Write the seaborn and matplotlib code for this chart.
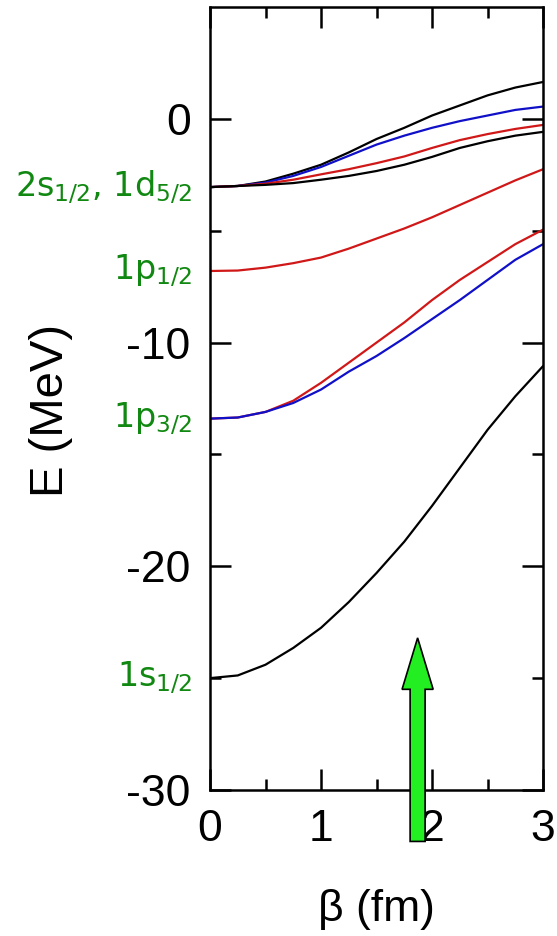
import numpy as np
import pandas as pd
import seaborn as sns
import matplotlib.pyplot as plt

# beta grid (fm)
beta = [0, 0.25, 0.5, 0.75, 1.0, 1.25, 1.5, 1.75, 2.0, 2.25, 2.5, 2.75, 3.0]

# energy levels (MeV)
d_black_up = [-3.05, -3.0, -2.8, -2.45, -2.05, -1.5, -0.9, -0.4, 0.15, 0.6, 1.05, 1.4, 1.65]
d_blue = [-3.05, -3.0, -2.85, -2.55, -2.15, -1.65, -1.15, -0.75, -0.4, -0.1, 0.15, 0.4, 0.55]
d_red = [-3.05, -3.0, -2.9, -2.72, -2.48, -2.25, -1.98, -1.68, -1.3, -0.95, -0.68, -0.45, -0.27]
s_black = [-3.05, -3.0, -2.95, -2.87, -2.72, -2.55, -2.33, -2.05, -1.7, -1.3, -1.0, -0.75, -0.58]
p12_red = [-6.8, -6.78, -6.65, -6.45, -6.2, -5.8, -5.35, -4.9, -4.4, -3.85, -3.3, -2.75, -2.25]
p32_red = [-13.4, -13.35, -13.1, -12.6, -11.8, -10.9, -10.0, -9.1, -8.1, -7.2, -6.4, -5.6, -4.95]
p32_blue = [-13.4, -13.35, -13.1, -12.7, -12.1, -11.3, -10.6, -9.8, -8.95, -8.1, -7.2, -6.3, -5.6]
s12_black = [-25.0, -24.88, -24.4, -23.65, -22.75, -21.6, -20.3, -18.9, -17.3, -15.6, -13.9, -12.4, -11.05]

curves = {
    'd_black_up': (d_black_up, 'black'),
    'd_blue': (d_blue, '#1010c8'),
    'd_red': (d_red, '#d01818'),
    's_black': (s_black, 'black'),
    'p12_red': (p12_red, '#d01818'),
    'p32_red': (p32_red, '#d01818'),
    'p32_blue': (p32_blue, '#1010c8'),
    's12_black': (s12_black, 'black'),
}

# level labels at beta = 0
level_names = ['2s$_{1/2}$, 1d$_{5/2}$', '1p$_{1/2}$', '1p$_{3/2}$', '1s$_{1/2}$']
level_E = [-3.05, -6.8, -13.4, -25.0]

sns.set_style("ticks")
plt.rcParams['font.family'] = ['Liberation Sans', 'DejaVu Sans']
plt.rcParams['mathtext.default'] = 'regular'
plt.rcParams['axes.unicode_minus'] = False

fig = plt.figure(figsize=(5.57, 9.36), dpi=100)
ax = fig.add_axes([0.377, 0.156, 0.598, 0.8365])

for name, (vals, col) in curves.items():
    df = pd.DataFrame({'beta': beta, 'E': vals})
    sns.lineplot(data=df, x='beta', y='E', color=col, linewidth=1.6, ax=ax)

ax.set_xlim(0, 3)
ax.set_ylim(-30, 5)
ax.set_xticks([0, 1, 2, 3])
ax.set_xticks([0.5, 1.5, 2.5], minor=True)
ax.set_yticks([0, -10, -20, -30])
ax.set_yticks([-5, -15, -25], minor=True)
ax.tick_params(which='both', direction='in', top=True, right=True, width=1.8,
               labelsize=32, pad=14, colors='black')
ax.tick_params(which='major', length=15)
ax.tick_params(which='minor', length=8)
for sp in ax.spines.values():
    sp.set_linewidth(1.8)
    sp.set_color('black')

ax.set_xlabel('β (fm)', fontsize=32, labelpad=28, color='black')
ax.set_ylabel('E (MeV)', fontsize=34, color='black')
ax.yaxis.set_label_coords(-0.41, 0.485)

for lab, e in zip(level_names, level_E):
    ax.text(-0.16, e, lab, color='#118811', fontsize=24, ha='right', va='center',
            family=['DejaVu Sans'])

ax.arrow(1.87, -32.3, 0, 9.1, width=0.135, head_width=0.28, head_length=2.3,
         length_includes_head=True, facecolor='#22ee22', edgecolor='black',
         linewidth=1.2, clip_on=False, zorder=10)

fig.savefig('out.png', dpi=100)
